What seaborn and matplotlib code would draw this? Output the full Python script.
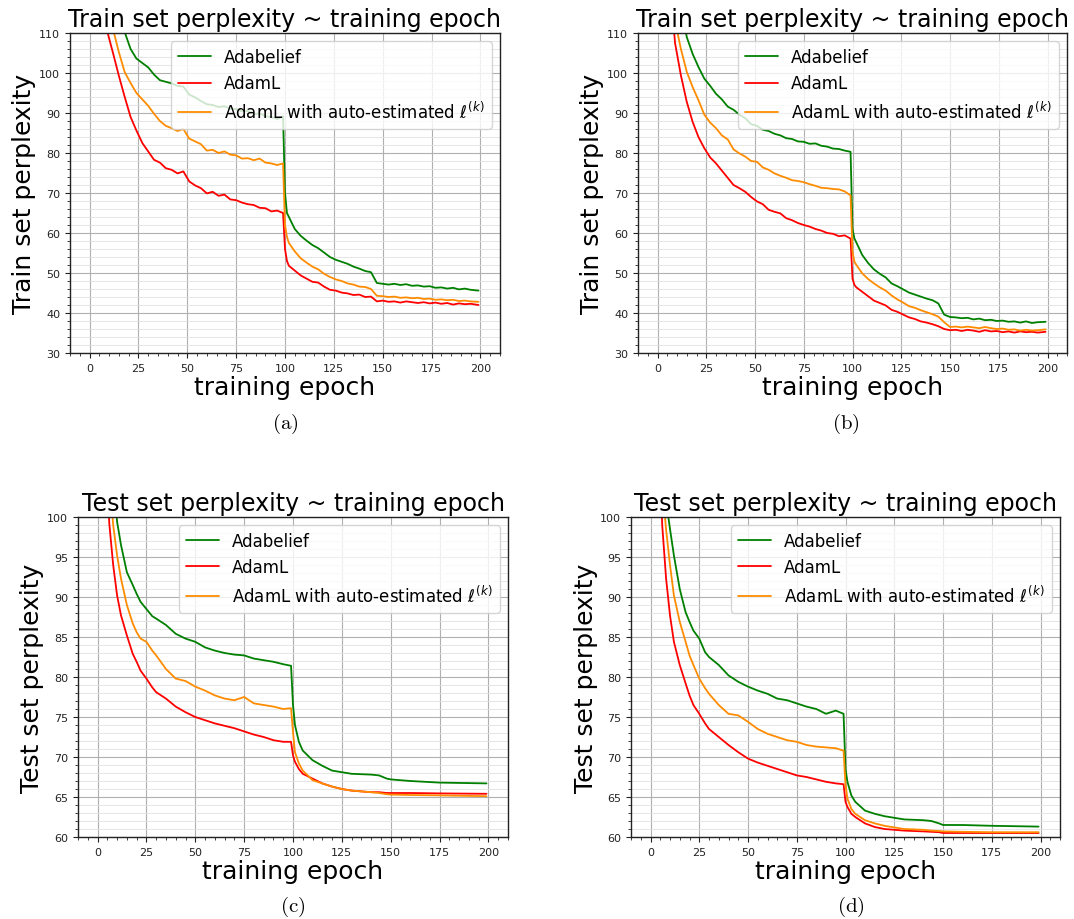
import matplotlib
matplotlib.use("Agg")
import matplotlib.pyplot as plt
from matplotlib.ticker import MultipleLocator
import numpy as np
import pandas as pd
import seaborn as sns

# ---------------- data ----------------
LABELS = ["Adabelief", "AdamL", r"AdamL with auto-estimated $\ell^{(k)}$"]
COLORS = ["green", "red", "darkorange"]

TRAIN_EPOCHS = [0, 3, 6, 9, 12, 15, 18, 21, 24, 27,
                30, 33, 36, 39, 42, 45, 48, 51, 54, 57,
                60, 63, 66, 69, 72, 75, 78, 81, 84, 87,
                90, 93, 96, 99, 100, 101, 102, 105, 108, 111,
                114, 117, 120, 123, 126, 129, 132, 135, 138, 141,
                144, 147, 150, 153, 156, 159, 162, 165, 168, 171,
                174, 177, 180, 183, 186, 189, 192, 195, 199]

TEST_EPOCHS = [0, 3, 6, 8, 10, 12, 15, 18, 20, 22,
               25, 28, 30, 35, 40, 45, 50, 55, 60, 65,
               70, 75, 80, 85, 90, 95, 99, 100, 101, 103,
               105, 110, 115, 120, 125, 130, 140, 144, 148, 150,
               160, 175, 199]

# panel (a): train perplexity
adabelief_a = [300, 230, 175, 145, 128, 117, 110.2, 106.0, 103.6, 102.5,
               101.4, 99.6, 98.2, 97.8, 97.4, 96.8, 96.6, 94.6, 93.9, 93.0,
               92.2, 92.0, 91.5, 91.7, 91.1, 91.0, 90.4, 90.5, 89.7, 89.9,
               89.2, 89.0, 88.5, 89.2, 70.0, 65.0, 64.0, 61.0, 59.3, 58.1,
               57.0, 56.2, 55.1, 54.0, 53.3, 52.8, 52.3, 51.6, 51.1, 50.5,
               50.2, 47.5, 47.3, 47.1, 47.3, 47.0, 47.2, 46.8, 46.9, 46.6,
               46.7, 46.3, 46.4, 46.1, 46.3, 45.9, 46.1, 45.8, 45.6]
adaml_a = [220, 160, 128, 110.5, 105.0, 99.3, 94.0, 89.0, 85.6, 82.5,
           80.4, 78.3, 77.6, 76.2, 75.8, 74.9, 75.4, 72.9, 71.9, 71.2,
           69.9, 70.3, 69.3, 69.6, 68.4, 68.2, 67.6, 67.2, 67.0, 66.3,
           66.2, 65.4, 65.6, 65.0, 56.0, 53.0, 51.8, 50.6, 49.4, 48.6,
           47.8, 47.6, 46.6, 45.8, 45.6, 45.1, 44.9, 44.5, 44.6, 44.0,
           44.1, 42.9, 43.1, 42.8, 42.9, 42.6, 42.9, 42.7, 42.5, 42.7,
           42.4, 42.6, 42.3, 42.5, 42.1, 42.4, 42.2, 42.3, 42.0]
auto_a = [260, 190, 145, 120, 111, 105.2, 100.2, 97.5, 95.0, 93.4,
          91.8, 89.8, 88.0, 86.8, 86.2, 85.5, 86.0, 83.6, 82.9, 82.2,
          80.6, 80.8, 80.0, 80.4, 79.6, 79.4, 78.6, 78.7, 78.2, 78.6,
          77.6, 77.4, 77.0, 77.4, 62.0, 59.0, 57.5, 55.4, 53.7, 52.6,
          51.6, 50.9, 49.8, 49.0, 48.4, 48.0, 47.4, 47.1, 46.6, 46.5,
          46.0, 44.3, 44.2, 44.0, 44.1, 43.8, 43.9, 43.7, 43.8, 43.5,
          43.6, 43.3, 43.4, 43.2, 43.3, 43.0, 43.1, 42.9, 42.8]

# panel (b): train perplexity
adabelief_b = [280, 210, 160, 132, 117, 109.0, 104.8, 101.5, 98.6, 96.8,
               94.8, 93.4, 91.6, 90.8, 89.6, 88.7, 87.2, 86.8, 85.8, 85.5,
               84.8, 84.4, 83.7, 83.5, 82.9, 82.8, 82.3, 82.4, 81.8, 81.6,
               81.1, 81.0, 80.6, 80.3, 61.0, 58.6, 57.6, 54.5, 52.5, 50.9,
               49.8, 48.9, 47.4, 46.7, 45.9, 45.1, 44.6, 44.1, 43.6, 43.2,
               42.4, 39.6, 39.0, 38.9, 38.7, 38.8, 38.4, 38.6, 38.2, 38.3,
               38.0, 38.1, 37.8, 37.9, 37.6, 37.9, 37.5, 37.7, 37.8]
adaml_b = [230, 165, 125, 107.5, 99.4, 92.8, 87.8, 84.0, 81.2, 78.9,
           77.4, 75.6, 73.8, 72.0, 71.2, 70.3, 69.0, 67.9, 67.2, 65.8,
           65.3, 64.9, 63.7, 63.2, 62.5, 62.0, 61.6, 61.0, 60.6, 60.0,
           59.8, 59.2, 59.4, 58.6, 48.6, 47.0, 46.4, 45.3, 44.2, 43.1,
           42.5, 41.9, 40.8, 40.3, 39.6, 38.9, 38.5, 37.9, 37.6, 37.2,
           36.7, 36.0, 35.7, 35.8, 35.5, 35.8, 35.6, 35.3, 35.7, 35.4,
           35.5, 35.2, 35.4, 35.1, 35.4, 35.2, 35.3, 35.1, 35.3]
auto_b = [250, 180, 135, 113, 106.0, 100.3, 96.5, 93.2, 89.6, 87.6,
          86.2, 84.4, 83.4, 80.9, 79.9, 79.1, 78.0, 77.8, 76.4, 75.8,
          74.9, 74.3, 73.8, 73.2, 73.0, 72.7, 72.2, 71.8, 71.3, 71.2,
          71.0, 70.9, 70.4, 69.4, 55.3, 52.8, 52.0, 49.9, 48.5, 47.4,
          46.4, 45.6, 44.4, 43.4, 42.6, 41.7, 41.3, 40.7, 40.2, 39.7,
          39.1, 37.7, 36.5, 36.6, 36.4, 36.6, 36.4, 36.2, 36.5, 36.2,
          36.0, 36.1, 35.8, 35.9, 35.6, 35.8, 35.6, 35.7, 35.9]

# panel (c): test perplexity
adabelief_c = [200, 150, 118, 105, 99.4, 96.5, 93.1, 91.5, 90.4, 89.4,
               88.5, 87.6, 87.3, 86.5, 85.4, 84.8, 84.4, 83.7, 83.3, 83.0,
               82.8, 82.7, 82.3, 82.1, 81.9, 81.6, 81.4, 76.5, 74.0, 71.9,
               70.8, 69.6, 68.9, 68.3, 68.1, 67.9, 67.8, 67.7, 67.3, 67.2,
               67.0, 66.8, 66.7]
adaml_c = [160, 118, 99.2, 94.0, 90.2, 87.7, 85.2, 82.9, 81.9, 80.8,
           79.8, 78.7, 78.1, 77.3, 76.3, 75.6, 75.0, 74.6, 74.2, 73.9,
           73.6, 73.2, 72.8, 72.5, 72.1, 71.9, 71.9, 70.2, 69.4, 68.5,
           67.9, 67.3, 66.7, 66.3, 66.0, 65.8, 65.6, 65.6, 65.5, 65.5,
           65.5, 65.45, 65.4]
auto_c = [180, 130, 105, 99.0, 95.2, 92.3, 89.0, 86.7, 85.6, 84.8,
          84.4, 83.3, 82.7, 81.0, 79.8, 79.5, 78.8, 78.3, 77.7, 77.3,
          77.1, 77.5, 76.7, 76.5, 76.3, 76.0, 76.1, 73.1, 70.6, 69.2,
          68.3, 67.1, 66.7, 66.3, 66.0, 65.8, 65.6, 65.5, 65.35, 65.3,
          65.25, 65.2, 65.1]

# panel (d): test perplexity
adabelief_d = [190, 140, 112, 102, 98.5, 95.2, 91.0, 88.1, 86.9, 85.8,
               84.8, 83.1, 82.5, 81.5, 80.2, 79.4, 78.8, 78.3, 77.9, 77.3,
               77.1, 76.7, 76.3, 76.0, 75.4, 75.8, 75.4, 68.5, 66.9, 65.2,
               64.4, 63.3, 62.9, 62.6, 62.4, 62.2, 62.1, 62.0, 61.7, 61.5,
               61.5, 61.4, 61.3]
adaml_d = [170, 122, 99.0, 92.3, 87.7, 84.4, 81.5, 79.2, 77.7, 76.5,
           75.4, 74.2, 73.5, 72.5, 71.5, 70.6, 69.8, 69.3, 68.9, 68.5,
           68.1, 67.7, 67.5, 67.2, 66.9, 66.7, 66.6, 64.4, 63.75, 62.9,
           62.5, 61.7, 61.25, 61.0, 60.9, 60.8, 60.7, 60.65, 60.6, 60.5,
           60.5, 60.5, 60.5]
auto_d = [180, 130, 104, 98.4, 94.0, 90.2, 86.9, 84.4, 82.7, 81.5,
          79.8, 78.6, 77.9, 76.5, 75.4, 75.2, 74.4, 73.5, 72.9, 72.5,
          72.1, 71.9, 71.5, 71.3, 71.2, 71.1, 70.8, 66.5, 64.8, 63.5,
          62.9, 62.1, 61.7, 61.4, 61.2, 61.0, 60.9, 60.8, 60.75, 60.7,
          60.65, 60.6, 60.6]

TITLES = ["Train set perplexity ~ training epoch", "Test set perplexity ~ training epoch"]
YLABELS = ["Train set perplexity", "Test set perplexity"]
XLABEL = "training epoch"
CAPTIONS = ["(a)", "(b)", "(c)", "(d)"]

# ---------------- style ----------------
sns.set_style("ticks")
plt.rcParams["font.family"] = ["DejaVu Sans"]
plt.rcParams["text.color"] = "black"
plt.rcParams["axes.labelcolor"] = "black"

W, H = 1074, 920
fig = plt.figure(figsize=(W / 100, H / 100), dpi=100)

def px_axes(left, top, right, bottom):
    return [left / W, 1 - bottom / H, (right - left) / W, (bottom - top) / H]

panels = [
    dict(pos=px_axes(70, 34, 500, 354), x=TRAIN_EPOCHS, ys=[adabelief_a, adaml_a, auto_a],
         kind=0, ylim=(30, 110), major=10, minor=2, cap=(285, 424)),
    dict(pos=px_axes(638, 34, 1067, 354), x=TRAIN_EPOCHS, ys=[adabelief_b, adaml_b, auto_b],
         kind=0, ylim=(30, 110), major=10, minor=2, cap=(846, 424)),
    dict(pos=px_axes(78, 518, 508, 838), x=TEST_EPOCHS, ys=[adabelief_c, adaml_c, auto_c],
         kind=1, ylim=(60, 100), major=5, minor=1, cap=(293, 907)),
    dict(pos=px_axes(631, 518, 1060, 838), x=TEST_EPOCHS, ys=[adabelief_d, adaml_d, auto_d],
         kind=1, ylim=(60, 100), major=5, minor=1, cap=(851, 907)),
]

palette = dict(zip(LABELS, COLORS))

for i, p in enumerate(panels):
    ax = fig.add_axes(p["pos"])
    frames = []
    for lab, y in zip(LABELS, p["ys"]):
        assert len(y) == len(p["x"])
        frames.append(pd.DataFrame({"epoch": p["x"], "value": y, "optimizer": lab}))
    df = pd.concat(frames, ignore_index=True)
    sns.lineplot(data=df, x="epoch", y="value", hue="optimizer", hue_order=LABELS,
                 palette=palette, linewidth=1.3, ax=ax)
    ax.set_xlim(-10, 210)
    ax.set_ylim(*p["ylim"])
    ax.xaxis.set_major_locator(MultipleLocator(25))
    ax.xaxis.set_minor_locator(MultipleLocator(5))
    ax.yaxis.set_major_locator(MultipleLocator(p["major"]))
    ax.yaxis.set_minor_locator(MultipleLocator(p["minor"]))
    ax.grid(which="major", color="#b0b0b0", linewidth=0.8)
    ax.grid(which="minor", axis="y", color="#e2e2e2", linewidth=0.6)
    ax.set_axisbelow(True)
    ax.tick_params(which="major", direction="out", length=3.5, width=0.8,
                   labelsize=8, colors="#222222")
    ax.tick_params(which="minor", direction="out", length=2, width=0.6, colors="#222222")
    for s in ax.spines.values():
        s.set_color("#222222")
        s.set_linewidth(1.0)
    ax.set_title(TITLES[p["kind"]], fontsize=17, pad=5, color="black")
    ax.set_ylabel(YLABELS[p["kind"]], fontsize=18, labelpad=2)
    ax.set_xlabel(XLABEL, fontsize=18, labelpad=2)
    leg = ax.legend(loc="upper right", fontsize=12, framealpha=0.8, edgecolor="#cccccc")
    for t in leg.get_texts():
        t.set_color("black")
    cx, cy = p["cap"]
    fig.text(cx / W, 1 - cy / H, r"$\mathrm{" + CAPTIONS[i] + "}$", math_fontfamily="cm",
             fontsize=15, ha="center", va="center")

fig.savefig("out.png", dpi=100)
